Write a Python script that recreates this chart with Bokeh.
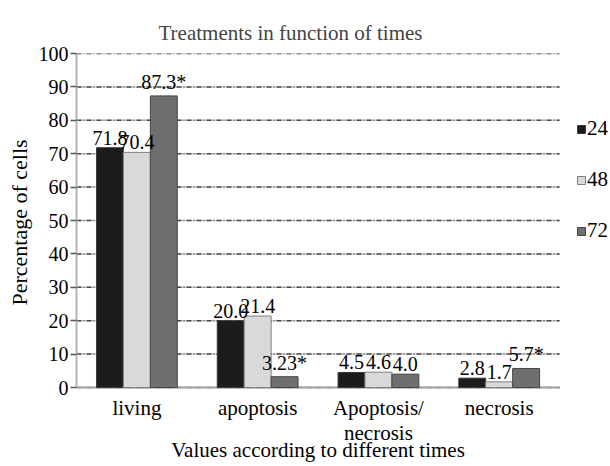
import numpy as np
from bokeh.plotting import figure
from bokeh.models import Range1d, FixedTicker, Title
from bokeh.core.properties import value
from bokeh.embed import file_html
from bokeh.resources import INLINE

# ---- data ----
categories = ["living", "apoptosis", "Apoptosis/\nnecrosis", "necrosis"]
times = ["24", "48", "72"]
v24 = [71.8, 20.0, 4.5, 2.8]
v48 = [70.4, 21.4, 4.6, 1.7]
v72 = [87.3, 3.23, 4.0, 5.7]
l24 = ["71.8", "20.0", "4.5", "2.8"]
l48 = ["70.4", "21.4", "4.6", "1.7"]
l72 = ["87.3*", "3.23*", "4.0", "5.7*"]
y_ticks = [0, 10, 20, 30, 40, 50, 60, 70, 80, 90, 100]
x_title = "Values according to different times"
y_title = "Percentage of cells"

FONT = "Liberation Serif"
n = len(categories)
centers = np.arange(n) + 0.5
W = 0.223

# frame 533 px wide (one category = 121 px, room on the right for the legend);
# the frame also extends below 0 to hold the category names and the x title
p = figure(width=608, height=464, x_range=Range1d(0, 533 / 121),
           y_range=Range1d(-23.05, 100), output_backend="svg", toolbar_location=None,
           min_border_left=75, min_border_right=0, min_border_top=53, min_border_bottom=0,
           title="Treatments in function of times", x_axis_location=None)

p.title.text_font = FONT
p.title.text_font_size = "21px"
p.title.text_font_style = "normal"
p.title.align = "left"
p.title.offset = 82
p.title.standoff = 18

p.outline_line_color = None
p.background_fill_color = "white"
p.border_fill_color = "white"
p.xgrid.grid_line_color = None
p.ygrid.grid_line_color = None

# gridlines limited to the category area
gx0 = [0] * len(y_ticks)
gx1 = [n] * len(y_ticks)
p.segment(x0=gx0, x1=gx1, y0=y_ticks, y1=y_ticks, line_color="#cfcfcf", line_width=1.5)
p.segment(x0=gx0, x1=gx1, y0=y_ticks, y1=y_ticks, line_color="#4a4a4a", line_width=1.5,
          line_dash="5 2 1 2")
# category axis baseline
p.segment(x0=[0], x1=[n], y0=[0], y1=[0], line_color="#a6a6a6", line_width=2)

# y axis
p.yaxis.ticker = FixedTicker(ticks=y_ticks)
p.yaxis.bounds = (y_ticks[0], y_ticks[-1])
p.yaxis.major_label_text_font = FONT
p.yaxis.major_label_text_font_size = "20px"
p.yaxis.major_label_text_color = "black"
p.yaxis.major_label_standoff = 2
p.yaxis.major_tick_in = 0
p.yaxis.major_tick_out = 6
p.yaxis.major_tick_line_color = "#555555"
p.yaxis.major_tick_line_width = 1.5
p.yaxis.minor_tick_line_color = None
p.yaxis.axis_line_color = "#b3b3b3"
p.yaxis.axis_line_width = 2

# y title, placed beside the 0..100 part of the axis
yt = Title(text=y_title, align="left", offset=159, standoff=8,
           text_font=FONT, text_font_size="22px", text_font_style="normal",
           text_color="black")
p.add_layout(yt, "left")

# bars
styles = [
    (v24, l24, -W, "#1c1c1c", "#3a3a3a", times[0]),
    (v48, l48, 0.0, "#d9d9d9", "#808080", times[1]),
    (v72, l72, W, "#6f6f6f", "#454545", times[2]),
]
for vals, labs, off, fc, lc, name in styles:
    p.vbar(x=centers + off, top=vals, width=W, fill_color=fc, line_color=lc,
           line_width=1, legend_label=name)
for vals, labs, off, fc, lc, name in styles:
    p.text(x=centers + off, y=vals, text=labs,
           text_font=value(FONT), text_font_size="20px", text_color="black",
           text_align="center", text_baseline="bottom", y_offset=-3)

# category names under the baseline
p.text(x=centers, y=[0] * n, text=categories, text_font=value(FONT),
       text_font_size="21px", text_color="black", text_align="center",
       text_baseline="top", text_line_height=1.05, y_offset=8)
# x title
p.text(x=[n / 2], y=[0], text=[x_title], text_font=value(FONT),
       text_font_size="21px", text_color="black", text_align="center",
       text_baseline="top", y_offset=50)

lg = p.legend[0]
lg.location = (500, 221)
lg.border_line_color = None
lg.background_fill_alpha = 0
lg.padding = 0
lg.margin = 0
lg.glyph_width = 10
lg.glyph_height = 10
lg.label_height = 24
lg.spacing = 26
lg.label_standoff = 1
lg.label_text_font = FONT
lg.label_text_font_size = "21px"
lg.label_text_color = "black"

open("out.html", "w").write(file_html(p, INLINE))
